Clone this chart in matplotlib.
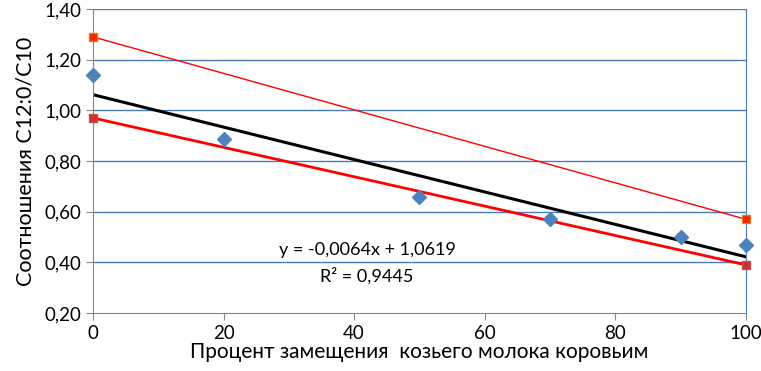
import matplotlib.pyplot as plt

plt.rcParams['font.family'] = ['Lato', 'DejaVu Sans']

x = [0, 20, 50, 70, 90, 100]
ratio = [1.14, 0.887, 0.658, 0.571, 0.50, 0.468]

upper_x = [0, 100]
upper_y = [1.29, 0.57]
lower_x = [0, 100]
lower_y = [0.97, 0.39]

slope = -0.0064
intercept = 1.0619
trend_x = [0, 100]
trend_y = [intercept + slope * v for v in trend_x]

fig = plt.figure(figsize=(7.61, 3.71), dpi=100)
ax = fig.add_axes([0.1222, 0.1563, 0.8578, 0.8194])

blue = '#4a7ebb'
for yv in [0.4, 0.6, 0.8, 1.0, 1.2, 1.4]:
    ax.axhline(yv, color=blue, lw=1, zorder=0)

ax.plot(upper_x, upper_y, color='#ff0000', lw=1, zorder=2)
ax.plot(upper_x, upper_y, ls='none', marker='s', ms=5.5, color='#ff2000',
        markeredgecolor='#d08020', zorder=3, clip_on=False)
ax.plot(lower_x, lower_y, color='#ff0000', lw=2, zorder=2)
ax.plot(lower_x, lower_y, ls='none', marker='s', ms=6, color='#d03030',
        markeredgecolor='#c0504d', zorder=3, clip_on=False)
ax.plot(trend_x, trend_y, color='black', lw=2.2, zorder=2)
ax.plot(x, ratio, ls='none', marker='D', ms=7, color='#4f81bd', zorder=4,
        clip_on=False)

ax.set_xlim(0, 100)
ax.set_ylim(0.2, 1.4)
ax.set_xticks([0, 20, 40, 60, 80, 100])
ax.set_yticks([0.2, 0.4, 0.6, 0.8, 1.0, 1.2, 1.4])
ax.set_yticklabels([f'{v:.2f}'.replace('.', ',') for v in ax.get_yticks()])

ax.spines['top'].set_visible(False)
ax.spines['right'].set_color(blue)
ax.spines['left'].set_color('#888888')
ax.spines['bottom'].set_color('#888888')
ax.tick_params(direction='out', length=5, color='#888888', labelsize=13.5)

ax.set_xlabel('Процент замещения  козьего молока коровьим', fontsize=15, labelpad=0)
ax.set_ylabel('Соотношения С12:0/С10', fontsize=15.5, labelpad=6)

ax.text(42, 0.45, 'y = -0,0064x + 1,0619', ha='center', va='center', fontsize=13)
ax.text(42, 0.347, 'R² = 0,9445', ha='center', va='center', fontsize=13)

fig.savefig('out.png')
